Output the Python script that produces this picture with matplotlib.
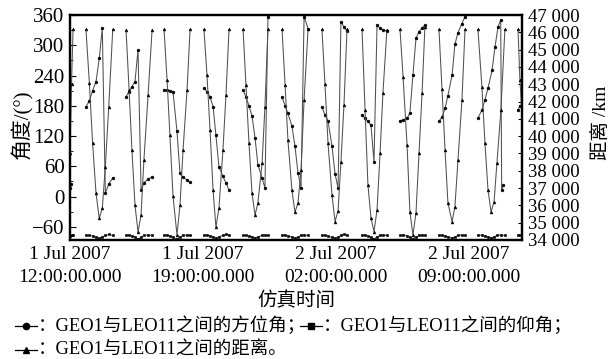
import numpy as np
import matplotlib
matplotlib.use("Agg")
import matplotlib.pyplot as plt
from matplotlib.lines import Line2D
from matplotlib.ticker import MultipleLocator, FuncFormatter, FixedLocator

FAM = ['Liberation Serif', 'Noto Sans CJK SC']
plt.rcParams['font.family'] = FAM

nan = np.nan
# time in hours since 1 Jul 2007 12:00:00 (distance & elevation samples)
time_h = [0.00, 0.08, 0.16, nan,
          0.84, 1.02, 1.19, 1.37, 1.54, 1.70, 1.86, 2.04, 2.25, nan,
          2.95, 3.11, 3.26, 3.42, 3.58, 3.74, 3.89, 4.11, 4.32, nan,
          4.95, 5.11, 5.26, 5.42, 5.63, 5.79, 5.95, 6.16, 6.32, nan,
          7.05, 7.21, 7.37, 7.53, 7.68, 7.84, 8.05, 8.21, 8.37, nan,
          9.11, 9.26, 9.42, 9.58, 9.74, 9.89, 10.11, 10.26, 10.42, nan,
          11.16, 11.32, 11.47, 11.68, 11.84, 12.00, 12.16, 12.32, 12.53, nan,
          13.26, 13.42, 13.58, 13.79, 13.95, 14.11, 14.26, 14.42, 14.58, nan,
          15.37, 15.53, 15.68, 15.84, 16.00, 16.16, 16.32, 16.47, 16.68, nan,
          17.37, 17.53, 17.74, 17.89, 18.05, 18.21, 18.37, 18.53, 18.68, nan,
          19.42, 19.58, 19.74, 19.89, 20.11, 20.26, 20.42, 20.63, 20.79, nan,
          21.47, 21.68, 21.84, 22.00, 22.16, 22.32, 22.47, 22.68, 22.89, nan,
          23.58, 23.68, 23.78]

distance_km = [39000, 43000, 46170, nan,
               46170, 43050, 39580, 36690, 35250, 35830, 38240, 41700, 46170, nan,
               46140, 42670, 39200, 36020, 34460, 35440, 38620, 42380, 46140, nan,
               46170, 43220, 40040, 36570, 34290, 36020, 39200, 42670, 46170, nan,
               46170, 43530, 40350, 36880, 34750, 35850, 39200, 42380, 46170, nan,
               46170, 42950, 39600, 36690, 35440, 36150, 38450, 41700, 46170, nan,
               46170, 42950, 39780, 36880, 35610, 36140, 38050, 42090, 46170, nan,
               46170, 43000, 39600, 36600, 35060, 35700, 38500, 41800, 46170, nan,
               46170, 41500, 37200, 35300, 34480, 35730, 39030, 42480, 46130, nan,
               46170, 43430, 39500, 35630, 34290, 35560, 39030, 42490, 46300, nan,
               46170, 42700, 39200, 36150, 35060, 35930, 38620, 42090, 46170, nan,
               46170, 42850, 39600, 36900, 35630, 36200, 38450, 41510, 46170, nan,
               46170, 43240, 41500]

elevation_deg = [-78, -77, -77, nan,
                 -77, -77, -78, -81, -83, -80, -77, -75, -77, nan,
                 -77, -76, -78, -80, -84, -81, -77, -76, -77, nan,
                 -77, -76, -78, -81, -84, -80, -77, -76, -77, nan,
                 -77, -76, -78, -80, -83, -80, -77, -75, -77, nan,
                 -77, -77, -78, -80, -82, -80, -77, -76, -77, nan,
                 -77, -76, -78, -80, -82, -80, -77, -76, -77, nan,
                 -77, -77, -78, -81, -83, -80, -77, -75, -77, nan,
                 -77, -76, -78, -81, -84, -80, -77, -76, -77, nan,
                 -77, -76, -78, -81, -84, -80, -77, -76, -77, nan,
                 -77, -77, -78, -80, -82, -80, -77, -76, -77, nan,
                 -77, -76, -78, -80, -82, -80, -77, -76, -77, nan,
                 -77, -77, -77]

az_time_h = [0.00, 0.06, nan,
             0.84, 1.02, 1.19, 1.37, 1.54, 1.70, 1.86, 2.04, 2.25, nan,
             2.95, 3.11, 3.26, 3.42, 3.58, 3.74, 3.89, 4.11, 4.32, nan,
             4.95, 5.11, 5.26, 5.42, 5.63, 5.79, 5.95, 6.16, 6.32, nan,
             7.05, 7.21, 7.37, 7.53, 7.68, 7.84, 8.05, 8.21, 8.37, nan,
             9.11, 9.26, 9.42, 9.58, 9.74, 9.89, 10.11, 10.26, 10.42, nan,
             11.16, 11.32, 11.47, 11.68, 11.84, 12.00, 12.16, 12.32, 12.53, nan,
             13.26, 13.42, 13.58, 13.79, 13.95, 14.11, 14.26, 14.42, 14.58, nan,
             15.37, 15.53, 15.68, 15.84, 16.00, 16.16, 16.32, 16.47, 16.68, nan,
             17.37, 17.53, 17.74, 17.89, 18.05, 18.21, 18.37, 18.53, 18.68, nan,
             19.42, 19.58, 19.74, 19.89, 20.11, 20.26, 20.42, 20.63, 20.79, nan,
             21.47, 21.68, 21.84, 22.00, 22.21, 22.37, 22.53, 22.67, 22.72, 22.81, nan,
             23.58, 23.68]

azimuth_deg = [18, 25, nan,
               178, 190, 210, 228, 274, 334, 7, 25, 37, nan,
               198, 208, 218, 228, 291, 13, 27, 35, 39, nan,
               211, 211, 210, 208, 130, 46, 38, 33, 28, nan,
               215, 208, 198, 178, 122, 59, 40, 27, 13, nan,
               211, 198, 180, 160, 116, 63, 37, 17, 357, nan,
               198, 180, 165, 140, 100, 47, 17, 357, 333, nan,
               178, 162, 150, 100, 45, 17, 347, 336, 328, nan,
               162, 155, 149, 142, 69, 340, 334, 330, 329, nan,
               150, 152, 155, 166, 241, 314, 327, 334, 340, nan,
               149, 158, 175, 200, 241, 302, 325, 343, 357, nan,
               155, 172, 192, 215, 250, 297, 337, 350, 13, 23, nan,
               172, 180]

xtick_hours = [0, 7, 14, 21]
xtick_labels = ['1 Jul 2007\n12:00:00.000', '1 Jul 2007\n19:00:00.000',
                '2 Jul 2007\n02:00:00.000', '2 Jul 2007\n09:00:00.000']

W, H = 616, 359
fig = plt.figure(figsize=(W / 100, H / 100), dpi=100)
L, R, T, B = 70, 522, 15, 240
ax = fig.add_axes([L / W, 1 - B / H, (R - L) / W, (B - T) / H])
ax2 = ax.twinx()

line_kw = dict(color='#505050', lw=0.75, markersize=2.0,
               markerfacecolor='black', markeredgecolor='black', markeredgewidth=0.4)
ax.plot(az_time_h, azimuth_deg, marker='o', **line_kw)
ax.plot(time_h, elevation_deg, marker='s', **line_kw)
ax2.plot(time_h, distance_km, marker='^', **line_kw)

ax.set_xlim(0, 23.79)
ax.set_ylim(-86, 360)
ax2.set_ylim(34000, 47000)

ax.xaxis.set_major_locator(FixedLocator(xtick_hours))
ax.set_xticklabels(xtick_labels, fontsize=14, linespacing=1.5)
ax.tick_params(axis='x', length=0, pad=4)

ax.yaxis.set_major_locator(MultipleLocator(60))
ax.yaxis.set_minor_locator(MultipleLocator(30))
ax.yaxis.set_major_formatter(FuncFormatter(lambda v, p: f"{int(v)}".replace('-', '\u2212')))
ax.tick_params(axis='y', which='major', direction='in', length=4, width=0.8,
               labelsize=15, pad=4)
ax.tick_params(axis='y', which='minor', direction='in', length=2, width=0.6)

ax2.yaxis.set_major_locator(MultipleLocator(1000))
ax2.yaxis.set_major_formatter(FuncFormatter(lambda v, p: f"{int(v):,}".replace(',', ' ')))
ax2.tick_params(axis='y', direction='in', length=3, width=0.8, labelsize=13.5, pad=4)

for a in (ax, ax2):
    for s in a.spines.values():
        s.set_linewidth(1.6)

def fx(x):
    return x / W

def fy(y):
    return 1 - y / H

fig.text(fx(22), fy(124), '角度/(°)', rotation=90, ha='center', va='center',
         fontsize=15, family=FAM)
fig.text(fx(601), fy(123), '距离 /km', rotation=90, ha='center', va='center',
         fontsize=14, family=FAM)
fig.text(fx(296), fy(301), '仿真时间', ha='center', va='center', fontsize=14, family=FAM)

def legend_sym(x0, x1, y, marker):
    xm = (x0 + x1) / 2
    fig.add_artist(Line2D([fx(x0), fx(x1)], [fy(y), fy(y)], transform=fig.transFigure,
                          color='black', lw=0.9))
    fig.add_artist(Line2D([fx(xm)], [fy(y)], transform=fig.transFigure,
                          marker=marker, markersize=4.5, color='black', lw=0))

LEG_FS = 13.3
legend_sym(15, 37, 326, 'o')
fig.text(fx(38), fy(326), '：GEO1与LEO11之间的方位角；', ha='left', va='center',
         fontsize=LEG_FS, family=FAM)
legend_sym(300, 322, 326, 's')
fig.text(fx(323), fy(326), '：GEO1与LEO11之间的仰角；', ha='left', va='center',
         fontsize=LEG_FS, family=FAM)
legend_sym(15, 37, 350, '^')
fig.text(fx(38), fy(350), '：GEO1与LEO11之间的距离。', ha='left', va='center',
         fontsize=LEG_FS, family=FAM)

fig.savefig('out.png', dpi=100)
